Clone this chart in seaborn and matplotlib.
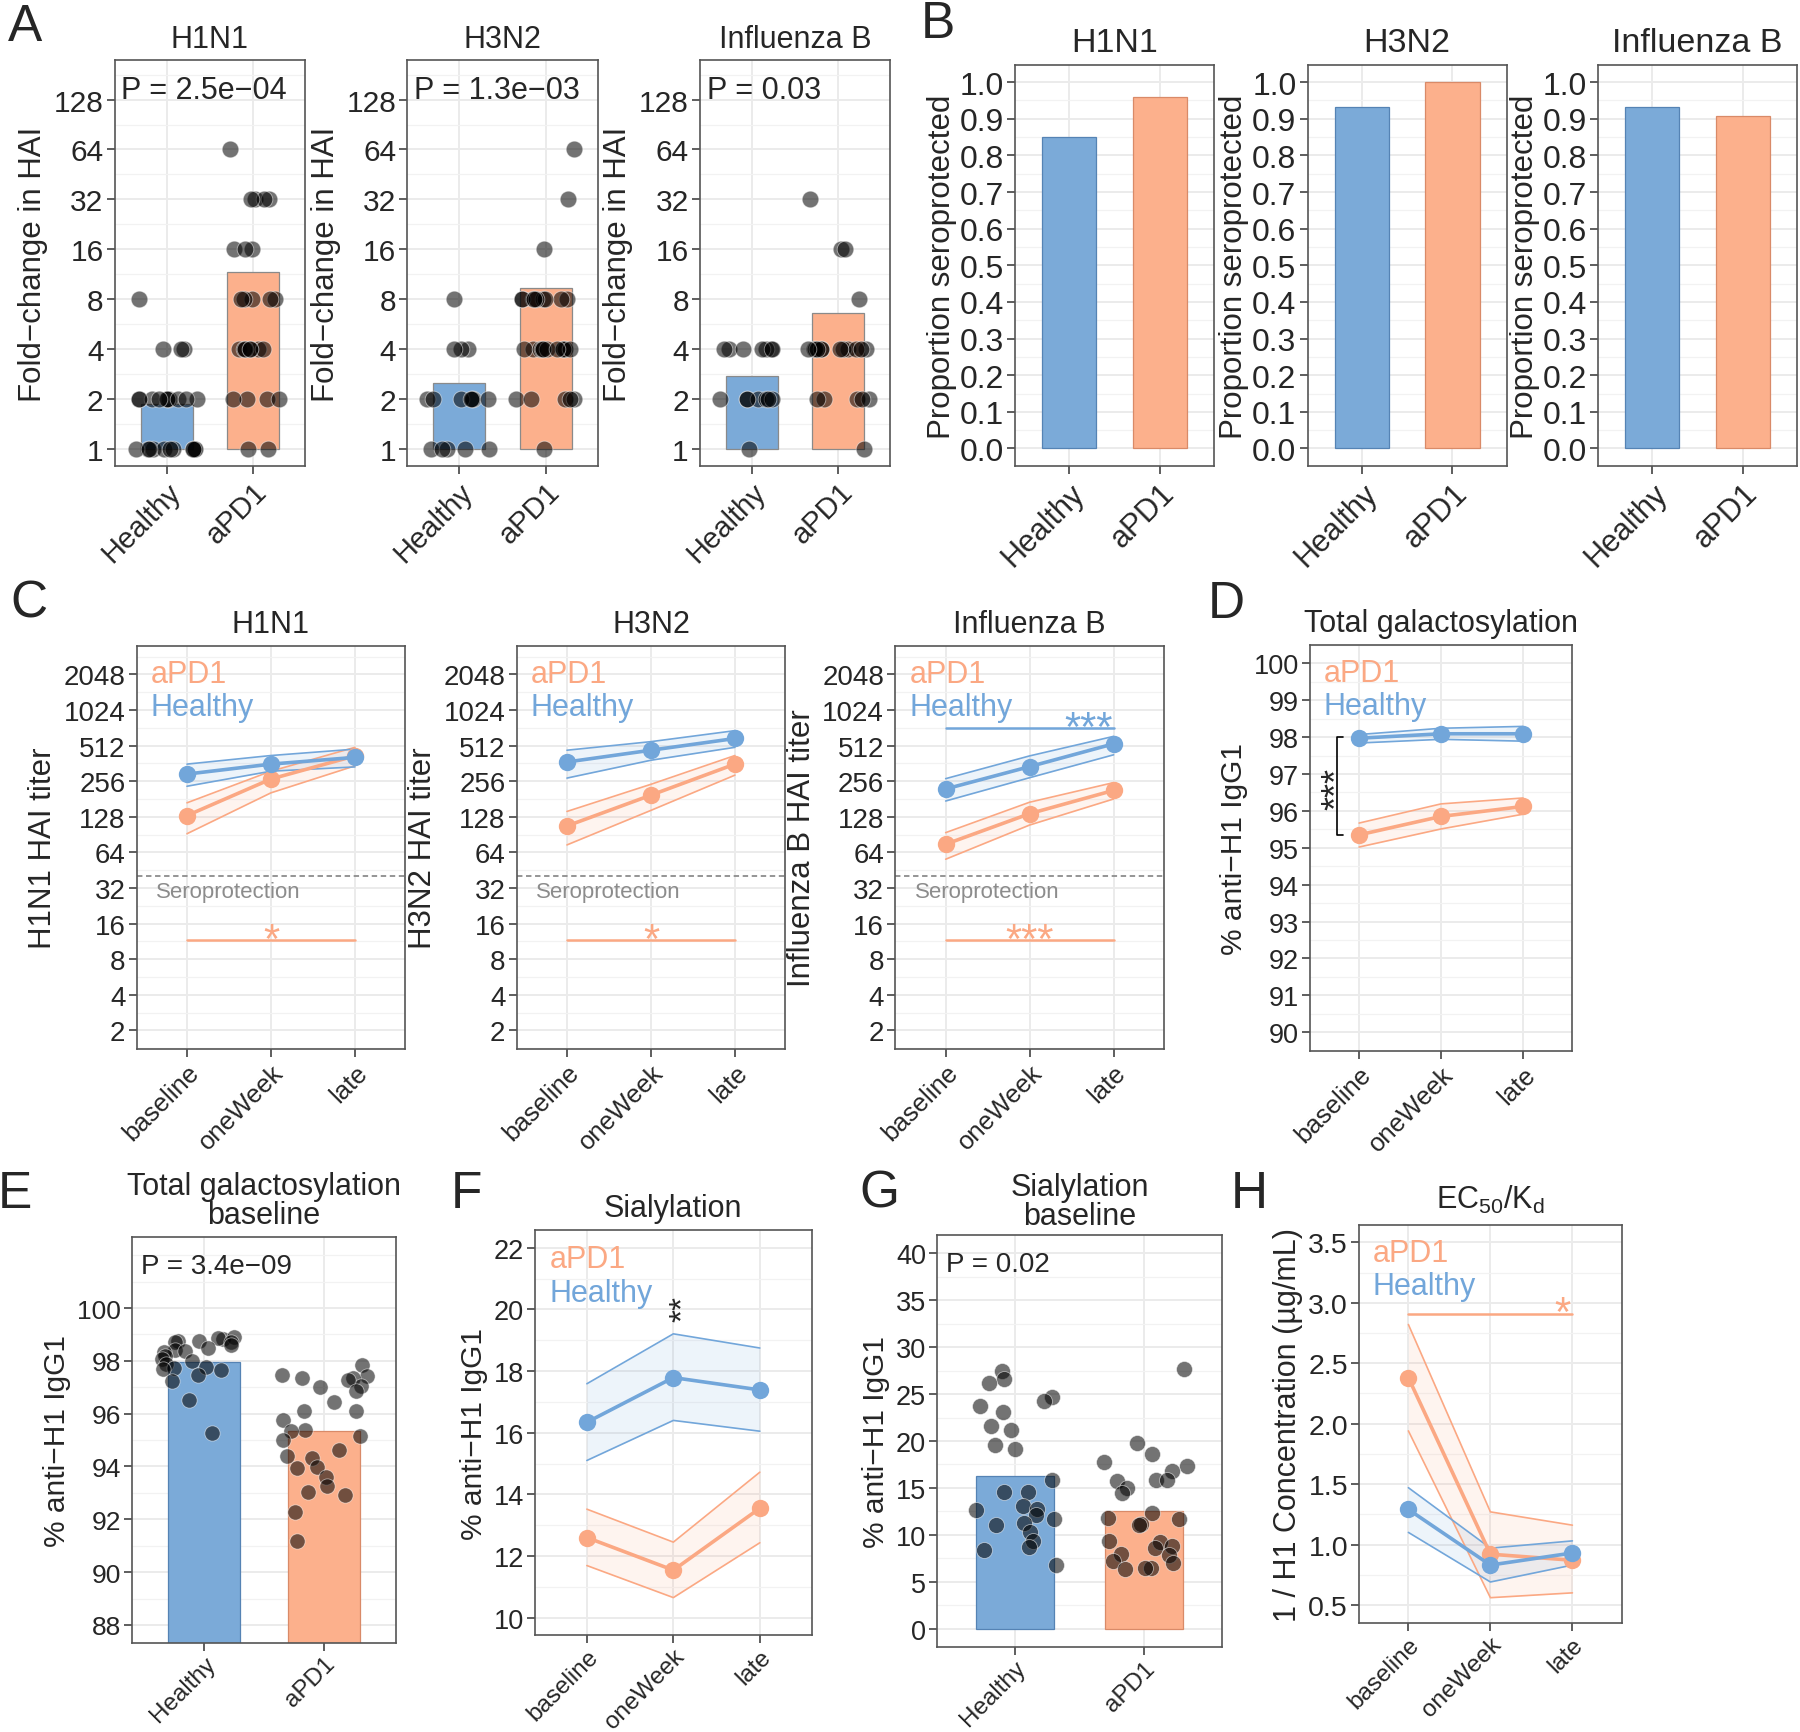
import numpy as np
import pandas as pd
import matplotlib
matplotlib.use("Agg")
import matplotlib.pyplot as plt
from matplotlib.ticker import MultipleLocator
import seaborn as sns

groups = ["Healthy", "aPD1"]
timepoints = ["baseline", "oneWeek", "late"]
strains = ["H1N1", "H3N2", "Influenza B"]

# A: fold-change in HAI per subject
a_h1n1_healthy = [8, 4, 4, 4, 2, 2, 2, 2, 2, 2, 2, 2, 2, 2, 1, 1, 1, 1, 1, 1, 1, 1, 1, 1, 1]
a_h1n1_apd1 = [64, 32, 32, 32, 32, 16, 16, 16, 8, 8, 8, 8, 8, 4, 4, 4, 4, 4, 4, 4, 2, 2, 2, 2, 1, 1]
a_h3n2_healthy = [8, 4, 4, 4, 2, 2, 2, 2, 2, 2, 2, 1, 1, 1, 1, 1]
a_h3n2_apd1 = [64, 32, 16, 8, 8, 8, 8, 8, 8, 8, 8, 8, 4, 4, 4, 4, 4, 4, 4, 4, 4, 4, 4,
               2, 2, 2, 2, 2, 1]
a_flub_healthy = [4, 4, 4, 4, 4, 4, 4, 2, 2, 2, 2, 2, 2, 2, 1]
a_flub_apd1 = [32, 16, 16, 8, 4, 4, 4, 4, 4, 4, 4, 4, 4, 4, 4, 4, 2, 2, 2, 2, 2, 1]
a_bar_healthy = [1.87, 2.5, 2.76]
a_bar_apd1 = [11.6, 9.3, 6.6]
a_pvalues = ["P = 2.5e\u221204", "P = 1.3e\u221203", "P = 0.03"]

# B: proportion seroprotected
b_healthy = [0.85, 0.933, 0.933]
b_apd1 = [0.959, 1.0, 0.907]

# C: HAI titers (geometric mean and ribbon), per strain
c_healthy_mean = [[294, 357, 407], [372, 468, 588], [220, 340, 530]]
c_healthy_lo = [[232, 311, 338], [272, 385, 495], [174, 274, 428]]
c_healthy_hi = [[357, 422, 478], [468, 553, 685], [269, 419, 613]]
c_apd1_mean = [[131, 267, 419], [107, 195, 357], [75, 136, 214]]
c_apd1_lo = [[92, 204, 345], [74, 145, 288], [56, 109, 181]]
c_apd1_hi = [[168, 311, 495], [142, 241, 422], [94, 170, 249]]
c_apd1_stars = ["*", "*", "***"]
seroprotection_titer = 40

# D: total galactosylation over time
d_healthy_mean = [97.97, 98.09, 98.09]
d_healthy_lo = [97.84, 97.94, 97.89]
d_healthy_hi = [98.07, 98.24, 98.29]
d_apd1_mean = [95.35, 95.85, 96.12]
d_apd1_lo = [95.02, 95.51, 95.91]
d_apd1_hi = [95.67, 96.19, 96.35]

# E: total galactosylation at baseline, per subject
e_healthy = [98.77, 98.75, 98.82, 98.89, 98.70, 98.86, 98.73, 98.48, 98.42, 98.34, 98.38,
             98.59, 98.17, 98.06, 98.00, 97.90, 97.73, 97.69, 97.76, 97.65, 97.45, 97.25,
             96.51, 95.27]
e_apd1 = [97.83, 97.41, 97.34, 97.48, 97.37, 97.04, 97.00, 97.27, 96.86, 96.44, 96.10,
          95.75, 96.10, 95.40, 95.34, 95.16, 94.99, 94.64, 94.41, 94.33, 93.98, 93.95,
          93.60, 93.26, 93.02, 92.91, 92.29, 91.18]
e_bar = [97.97, 95.34]

# F: sialylation over time
f_healthy_mean = [16.34, 17.79, 17.39]
f_healthy_lo = [15.10, 16.40, 16.05]
f_healthy_hi = [17.59, 19.21, 18.75]
f_apd1_mean = [12.60, 11.54, 13.55]
f_apd1_lo = [11.69, 10.65, 12.43]
f_apd1_hi = [13.52, 12.45, 14.72]

# G: sialylation at baseline, per subject
g_healthy = [27.5, 26.65, 26.2, 24.7, 24.3, 23.7, 23.1, 21.6, 21.2, 19.6, 19.1, 15.8, 14.6,
             14.6, 13.1, 12.8, 12.6, 12.1, 11.7, 11.3, 11.0, 10.3, 9.3, 8.7, 8.4, 6.8]
g_apd1 = [27.7, 19.8, 18.6, 17.8, 17.3, 16.8, 15.8, 15.8, 15.7, 15.0, 14.5, 12.3, 11.8,
          11.7, 11.2, 11.1, 9.3, 9.2, 8.8, 8.6, 8.0, 7.9, 7.2, 7.0, 6.5, 6.4, 6.5]
g_bar = [16.3, 12.57]

# H: EC50/Kd over time
h_healthy_mean = [1.29, 0.83, 0.93]
h_healthy_lo = [1.10, 0.69, 0.83]
h_healthy_hi = [1.47, 0.97, 1.03]
h_apd1_mean = [2.38, 0.92, 0.87]
h_apd1_lo = [1.94, 0.56, 0.60]
h_apd1_hi = [2.82, 1.27, 1.16]

BLUE = "#7BAAD8"
ORANGE = "#FCB08C"
BLUE_LINE = "#72A6DA"
ORANGE_LINE = "#FBA883"
BLUE_EDGE = "#5583B4"
ORANGE_EDGE = "#D98A68"
LINE_COLORS = {"aPD1": ORANGE_LINE, "Healthy": BLUE_LINE}
GRID = "#EBEBEB"
SPINE = "#555555"

sns.set_style("white")
plt.rcParams["font.family"] = ["Liberation Sans", "DejaVu Sans"]
plt.rcParams["mathtext.fontset"] = "custom"
plt.rcParams["mathtext.rm"] = "Liberation Sans"
plt.rcParams["mathtext.it"] = "Liberation Sans:italic"

W, H = 1800, 1733
fig = plt.figure(figsize=(W / 100, H / 100), dpi=100)
np.random.seed(7)
tp_pos = np.arange(len(timepoints))


def add_ax(left, top, right, bottom):
    return fig.add_axes([left / W, 1 - bottom / H, (right - left) / W, (bottom - top) / H])


def style_ax(ax, tick_size, xtick_size, yminor, xpad=2):
    for s in ax.spines.values():
        s.set_visible(True)
        s.set_color(SPINE)
        s.set_linewidth(1.2)
    ax.set_axisbelow(True)
    ax.grid(True, which="major", color=GRID, lw=1.4)
    ax.yaxis.set_minor_locator(MultipleLocator(yminor))
    ax.grid(True, which="minor", axis="y", color="#F2F2F2", lw=0.9)
    ax.tick_params(which="major", length=6, width=1.1, color="#333333", pad=2,
                   left=True, bottom=True)
    ax.tick_params(axis="y", labelsize=tick_size)
    ax.tick_params(axis="x", labelsize=xtick_size, pad=xpad)
    ax.tick_params(which="minor", length=0)
    ax.set_xlabel("")
    plt.setp(ax.get_xticklabels(), rotation=45, ha="right", va="top", rotation_mode="anchor")


def panel_letter(x, y, s):
    fig.text(x / W, 1 - y / H, s, fontsize=37, ha="left", va="baseline")


def bars_and_points(ax, bar_vals, healthy, apd1, size, jitter, edges):
    bars = pd.DataFrame({"group": groups, "value": bar_vals})
    sns.barplot(data=bars, x="group", y="value", hue="group", order=groups, hue_order=groups,
                palette=[BLUE, ORANGE], saturation=1, width=0.6, linewidth=0.9,
                legend=False, ax=ax)
    for patch, ec in zip(ax.patches, edges):
        patch.set_edgecolor(ec)
    pts = pd.DataFrame({"group": ["Healthy"] * len(healthy) + ["aPD1"] * len(apd1),
                        "value": list(healthy) + list(apd1)})
    sns.stripplot(data=pts, x="group", y="value", order=groups, color="black", alpha=0.55,
                  size=size, jitter=jitter, edgecolor="white", linewidth=0.6, ax=ax)
    ax.set_xlim(-0.6, 1.6)


def ribbons(ax, series, transform=lambda v: np.asarray(v, dtype=float)):
    rows = []
    for grp, mean, lo, hi in series:
        col = LINE_COLORS[grp]
        ax.fill_between(tp_pos, transform(lo), transform(hi), color=col, alpha=0.12, lw=0)
        ax.plot(tp_pos, transform(lo), color=col, lw=1.2)
        ax.plot(tp_pos, transform(hi), color=col, lw=1.2)
        rows += [{"group": grp, "x": p, "value": v} for p, v in zip(tp_pos, transform(mean))]
    df = pd.DataFrame(rows)
    sns.lineplot(data=df, x="x", y="value", hue="group", hue_order=["aPD1", "Healthy"],
                 palette=LINE_COLORS, marker="o", markersize=12.5, markeredgewidth=0,
                 linewidth=2.6, legend=False, errorbar=None, ax=ax)
    ax.set_xticks(tp_pos, timepoints)
    ax.set_xlim(-0.6, 2.6)


def legend_text(ax, ytop=0.93):
    ax.text(0.052, ytop, "aPD1", color=ORANGE_LINE, fontsize=22, va="center",
            transform=ax.transAxes)
    ax.text(0.052, ytop - 0.082, "Healthy", color=BLUE_LINE, fontsize=22, va="center",
            transform=ax.transAxes)


def star(ax, x, y, s, color, size=30):
    ax.annotate(s, xy=(x, y), xytext=(0, -8.5), textcoords="offset points", ha="center",
                va="baseline", color=color, fontsize=size)


# ---------------- A ----------------
a_points = [(a_h1n1_healthy, a_h1n1_apd1), (a_h3n2_healthy, a_h3n2_apd1),
            (a_flub_healthy, a_flub_apd1)]
a_lefts = [114.7, 407.3, 699.9]
for i, strain in enumerate(strains):
    ax = add_ax(a_lefts[i], 61, a_lefts[i] + 190.2, 467.3)
    h, a = a_points[i]
    bars_and_points(ax, np.log2([a_bar_healthy[i], a_bar_apd1[i]]), np.log2(h), np.log2(a),
                    size=12, jitter=0.37, edges=["#8A8A8A", "#8A8A8A"])
    ax.set_ylim(-0.356, 7.795)
    ax.set_yticks(range(8), [str(2 ** k) for k in range(8)])
    style_ax(ax, 21.5, 21, 0.5)
    ax.set_ylabel("Fold\u2212change in HAI", fontsize=22.5)
    ax.set_title(strain, fontsize=22, pad=9)
    ax.text(0.035, 0.927, a_pvalues[i], fontsize=22, va="center", transform=ax.transAxes)
panel_letter(8, 41, "A")

# ---------------- B ----------------
b_lefts = [1014.8, 1307.6, 1598.0]
for i, strain in enumerate(strains):
    ax = add_ax(b_lefts[i], 65.9, b_lefts[i] + 199.2, 467.3)
    bars = pd.DataFrame({"group": groups, "value": [b_healthy[i], b_apd1[i]]})
    sns.barplot(data=bars, x="group", y="value", hue="group", order=groups, hue_order=groups,
                palette=[BLUE, ORANGE], saturation=1, width=0.6, linewidth=0.9,
                legend=False, ax=ax)
    for patch, ec in zip(ax.patches, [BLUE_EDGE, ORANGE_EDGE]):
        patch.set_edgecolor(ec)
    ax.set_xlim(-0.6, 1.6)
    ax.set_ylim(-0.0486, 1.047)
    ax.set_yticks(np.arange(0, 1.01, 0.1), [f"{v:.1f}" for v in np.arange(0, 1.01, 0.1)])
    style_ax(ax, 23, 22, 0.05)
    ax.set_ylabel("Proportion seroprotected", fontsize=22.5, labelpad=2)
    ax.set_title(strain, fontsize=24.5, pad=10)
panel_letter(921, 38, "B")

# ---------------- C ----------------
c_lefts = [136.6, 516.6, 895.3]
for i, strain in enumerate(strains):
    ax = add_ax(c_lefts[i], 646.6, c_lefts[i] + 268.7, 1049.8)
    ribbons(ax, [("aPD1", c_apd1_mean[i], c_apd1_lo[i], c_apd1_hi[i]),
                 ("Healthy", c_healthy_mean[i], c_healthy_lo[i], c_healthy_hi[i])],
            transform=np.log2)
    ax.set_ylim(0.48, 11.81)
    ax.set_yticks(range(1, 12), [str(2 ** k) for k in range(1, 12)])
    style_ax(ax, 20, 18.5, 0.5)
    ax.axhline(np.log2(seroprotection_titer), color="#8C8C8C", ls=(0, (3, 2)), lw=1.3)
    ax.text(0.072, 4.9, "Seroprotection", color="#8C8C8C", fontsize=16, va="center",
            transform=ax.get_yaxis_transform())
    ax.plot([0, 2], [np.log2(11.5)] * 2, color=ORANGE_LINE, lw=1.8)
    star(ax, 1, np.log2(11.5), c_apd1_stars[i], ORANGE_LINE)
    if strain == "Influenza B":
        ax.plot([0, 2], [np.log2(719)] * 2, color=BLUE_LINE, lw=1.8)
        star(ax, 1.7, np.log2(719), "***", BLUE_LINE)
    legend_text(ax)
    ax.set_ylabel(f"{strain} HAI titer", fontsize=22.5)
    ax.set_title(strain, fontsize=22, pad=9.5)
panel_letter(10, 618, "C")

# ---------------- D ----------------
ax = add_ax(1309.9, 645.5, 1572.2, 1051.7)
ribbons(ax, [("aPD1", d_apd1_mean, d_apd1_lo, d_apd1_hi),
             ("Healthy", d_healthy_mean, d_healthy_lo, d_healthy_hi)])
ax.set_ylim(89.5, 100.51)
ax.set_yticks(range(90, 101))
style_ax(ax, 19.5, 18.5, 0.5)
ax.plot([-0.195, -0.27, -0.27, -0.195], [98.0, 98.0, 95.35, 95.35], color="black", lw=1.2)
ax.text(-0.26, 96.62, "***", rotation=90, fontsize=26, ha="center", va="center")
legend_text(ax)
ax.set_ylabel("% anti\u2212H1 IgG1", fontsize=21.5)
ax.set_title("Total galactosylation", fontsize=22, pad=9.5)
panel_letter(1208, 618, "D")

# ---------------- E ----------------
ax = add_ax(132, 1237.8, 396.1, 1643.6)
bars_and_points(ax, e_bar, e_healthy, e_apd1, size=11, jitter=0.36,
                edges=[BLUE_EDGE, ORANGE_EDGE])
ax.set_ylim(87.33, 102.7)
ax.set_yticks(range(88, 101, 2))
style_ax(ax, 19, 17.5, 1, xpad=1)
ax.set_ylabel("% anti\u2212H1 IgG1", fontsize=21.5)
ax.set_title("Total galactosylation\nbaseline", fontsize=22, pad=10, linespacing=0.95)
ax.text(0.033, 0.928, "P = 3.4e\u221209", fontsize=20, va="center", transform=ax.transAxes)
panel_letter(-2, 1208, "E")

# ---------------- F ----------------
ax = add_ax(535, 1231.3, 811.7, 1636.2)
ribbons(ax, [("aPD1", f_apd1_mean, f_apd1_lo, f_apd1_hi),
             ("Healthy", f_healthy_mean, f_healthy_lo, f_healthy_hi)])
ax.set_ylim(9.43, 22.57)
ax.set_yticks(range(10, 23, 2))
style_ax(ax, 19.5, 17.5, 1, xpad=1)
ax.text(1.12, 20.05, "**", rotation=90, fontsize=24, ha="center", va="center")
legend_text(ax, 0.928)
ax.set_ylabel("% anti\u2212H1 IgG1", fontsize=21.5)
ax.set_title("Sialylation", fontsize=22, pad=10.5)
panel_letter(451, 1208, "F")

# ---------------- G ----------------
ax = add_ax(937.3, 1236, 1221.5, 1648)
bars_and_points(ax, g_bar, g_healthy, g_apd1, size=11.5, jitter=0.34,
                edges=[BLUE_EDGE, ORANGE_EDGE])
ax.set_ylim(-1.95, 41.95)
ax.set_yticks(range(0, 41, 5))
style_ax(ax, 19.5, 17.5, 2.5, xpad=1)
ax.set_ylabel("% anti\u2212H1 IgG1", fontsize=21.5)
ax.set_title("Sialylation\nbaseline", fontsize=22, pad=8, linespacing=0.95)
ax.text(0.031, 0.93, "P = 0.02", fontsize=20, va="center", transform=ax.transAxes)
panel_letter(859, 1208, "G")

# ---------------- H ----------------
ax = add_ax(1359.2, 1225.8, 1621.6, 1624.2)
ribbons(ax, [("aPD1", h_apd1_mean, h_apd1_lo, h_apd1_hi),
             ("Healthy", h_healthy_mean, h_healthy_lo, h_healthy_hi)])
ax.set_ylim(0.349, 3.645)
ax.set_yticks(np.arange(0.5, 3.51, 0.5), [f"{v:.1f}" for v in np.arange(0.5, 3.51, 0.5)])
style_ax(ax, 20.5, 17.5, 0.25, xpad=1)
ax.plot([0, 2], [2.91, 2.91], color=ORANGE_LINE, lw=1.8)
star(ax, 1.88, 2.91, "*", ORANGE_LINE)
legend_text(ax, 0.928)
ax.set_ylabel("1 / H1 Concentration (\u00b5g/mL)", fontsize=22)
ax.set_title(r"EC$_{\mathrm{50}}$/K$_{\mathrm{d}}$", fontsize=22, pad=12)
panel_letter(1231, 1208, "H")

fig.savefig("out.png", dpi=100)
